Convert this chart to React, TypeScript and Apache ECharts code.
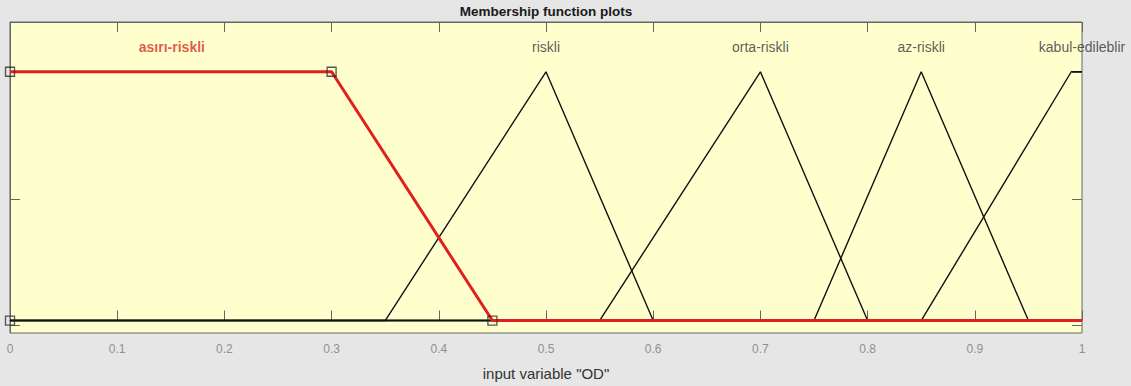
import React, { useEffect, useRef } from "react";
import * as echarts from "echarts";

const xTicks = [0, 0.1, 0.2, 0.3, 0.4, 0.5, 0.6, 0.7, 0.8, 0.9, 1];

const mfNames = ["riskli", "orta-riskli", "az-riskli", "kabul-edileblir"];
const riskli = [[0, 0], [0.35, 0], [0.5, 1], [0.6, 0], [1, 0]];
const ortaRiskli = [[0, 0], [0.55, 0], [0.7, 1], [0.8, 0], [1, 0]];
const azRiskli = [[0, 0], [0.75, 0], [0.85, 1], [0.95, 0], [1, 0]];
const kabul = [[0, 0], [0.85, 0], [0.99, 1], [1, 1]];
const asiriRiskli = [[0, 1], [0.3, 1], [0.45, 0], [1, 0]];
const selectedVertices = [[0, 1], [0.3, 1], [0.45, 0], [0, 0]];

const labelNames = ["asırı-riskli", "riskli", "orta-riskli", "az-riskli", "kabul-edileblir"];
const labelX = [0.151, 0.5, 0.7, 0.85, 1.0];
const labelY = 1.1;

const Y_MIN = -0.05;
const Y_MAX = 1.2;

export default function App() {
  const ref = useRef<HTMLDivElement>(null);
  useEffect(() => {
    if (!ref.current) return;
    const chart = echarts.init(ref.current, undefined, { renderer: "svg" });
    const font = "'Liberation Sans', Arial, sans-serif";
    const H = 386;
    const gL = 10, gR = 49, gT = 22, gB = 48;
    const plotH = H - gT - gB;
    const perUnit = plotH / (Y_MAX - Y_MIN);
    const tickTop = gT + (Y_MAX - 1) * perUnit;
    const tickBottom = gB + (0 - Y_MIN) * perUnit;

    const black = (name: string, data: number[][]) => ({
      type: "line",
      name,
      data,
      symbol: "none",
      lineStyle: { color: "#111", width: 1.4 },
      z: 2,
    });
    const axisCol = "#666";
    chart.setOption({
      animation: false,
      backgroundColor: "#e6e6e6",
      textStyle: { fontFamily: font },
      title: {
        text: "Membership function plots",
        left: 546,
        top: 4,
        padding: 0,
        textAlign: "center",
        textStyle: { fontFamily: font, fontSize: 13.5, fontWeight: "bold", color: "#1a1a1a" },
      },
      grid: [
        {
          left: gL,
          right: gR,
          top: gT,
          bottom: gB,
          show: true,
          backgroundColor: "#ffffcd",
          borderColor: axisCol,
          borderWidth: 1,
        },
        { left: gL, right: gR, top: tickTop, bottom: tickBottom, show: false },
      ],
      xAxis: [
        {
          type: "value",
          gridIndex: 0,
          min: 0,
          max: 1,
          interval: 0.1,
          position: "bottom",
          name: 'input variable "OD"',
          nameLocation: "middle",
          nameGap: 33,
          nameTextStyle: { fontFamily: font, fontSize: 15, color: "#333" },
          axisLine: { show: true, lineStyle: { color: axisCol } },
          axisTick: { show: true, inside: true, length: 10, lineStyle: { color: axisCol } },
          axisLabel: {
            fontFamily: font,
            fontSize: 12,
            color: "#909090",
            margin: 10,
            formatter: (v: number) => {
              const t = xTicks.find((x) => Math.abs(x - v) < 1e-9);
              return t === undefined ? "" : String(t);
            },
          },
          splitLine: { show: false },
        },
        {
          type: "value",
          gridIndex: 0,
          min: 0,
          max: 1,
          interval: 0.1,
          position: "top",
          axisLine: { show: true, lineStyle: { color: axisCol } },
          axisTick: { show: true, inside: true, length: 10, lineStyle: { color: axisCol } },
          axisLabel: { show: false },
          splitLine: { show: false },
        },
        {
          type: "value",
          gridIndex: 1,
          min: 0,
          max: 1,
          show: false,
        },
      ],
      yAxis: [
        {
          type: "value",
          gridIndex: 0,
          min: Y_MIN,
          max: Y_MAX,
          position: "left",
          axisLine: { show: true, lineStyle: { color: axisCol } },
          axisTick: { show: false },
          axisLabel: { show: false },
          splitLine: { show: false },
        },
        {
          type: "value",
          gridIndex: 1,
          min: 0,
          max: 1,
          interval: 0.5,
          position: "left",
          axisLine: { show: false },
          axisTick: { show: true, inside: true, length: 10, lineStyle: { color: axisCol } },
          axisLabel: { show: false },
          splitLine: { show: false },
        },
        {
          type: "value",
          gridIndex: 1,
          min: 0,
          max: 1,
          interval: 0.5,
          position: "right",
          axisLine: { show: false },
          axisTick: { show: true, inside: true, length: 10, lineStyle: { color: axisCol } },
          axisLabel: { show: false },
          splitLine: { show: false },
        },
      ],
      series: [
        black(mfNames[0], riskli),
        black(mfNames[1], ortaRiskli),
        black(mfNames[2], azRiskli),
        black(mfNames[3], kabul),
        {
          type: "line",
          name: "asırı-riskli",
          data: asiriRiskli,
          symbol: "none",
          lineStyle: { color: "#e0201c", width: 3 },
          z: 3,
        },
        {
          type: "scatter",
          data: selectedVertices,
          symbol: "rect",
          symbolSize: 9,
          itemStyle: { color: "rgba(0,0,0,0)", borderColor: "#2a2a2a", borderWidth: 1.3 },
          clip: false,
          z: 4,
        },
        {
          type: "scatter",
          symbolSize: 0,
          clip: false,
          data: labelNames.map((n, i) => ({
            name: n,
            value: [labelX[i], labelY],
            label:
              i === 0
                ? { color: "#d8302a", fontWeight: "bold" }
                : { color: "#333", fontWeight: "normal" },
          })),
          label: {
            show: true,
            position: "inside",
            formatter: (p: any) => p.name,
            fontFamily: font,
            fontSize: 14,
          },
          z: 5,
        },
      ],
    });
    return () => chart.dispose();
  }, []);
  return (
    <div
      ref={ref}
      style={{ position: "fixed", left: 0, top: 0, width: 1131, height: 386 }}
    />
  );
}
